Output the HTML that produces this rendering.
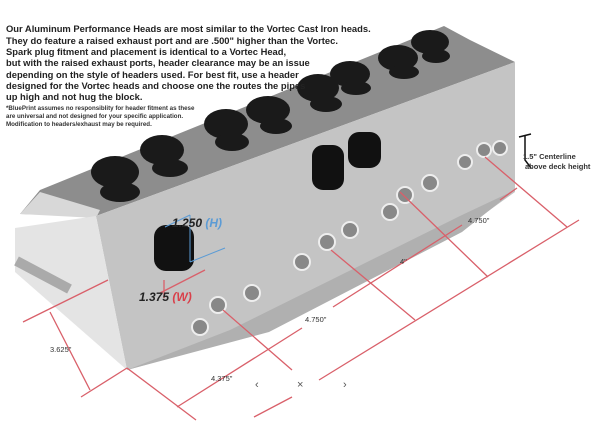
<!DOCTYPE html>
<html><head><meta charset="utf-8"><style>
body{margin:0;background:#fff;}
svg{display:block;}
text{font-family:"Liberation Sans",sans-serif;}
</style></head><body>
<svg width="600" height="421" viewBox="0 0 600 421" xmlns="http://www.w3.org/2000/svg">
<rect width="600" height="421" fill="#fff"/>
<!-- top deck -->
<polygon points="20,214 40,190 444,26 470,40 515,62 96,216" fill="#8d8d8d"/>
<polygon points="20,214 40,192 100,210 96,218" fill="#d8d8d8"/>
<!-- front face -->
<polygon points="96,216 515,62 515,192 462,230 269,330 127,370" fill="#c4c4c4"/>
<polygon points="230,330 462,215 515,190 462,232 269,332 127,370" fill="#b0b0b0"/>
<!-- springs -->
<g fill="#1a1a1a">
<ellipse cx="115" cy="172" rx="24" ry="16"/><ellipse cx="120" cy="192" rx="20" ry="10"/>
<ellipse cx="162" cy="150" rx="22" ry="15"/><ellipse cx="170" cy="168" rx="18" ry="9"/>
<ellipse cx="226" cy="124" rx="22" ry="15"/><ellipse cx="232" cy="142" rx="17" ry="9"/>
<ellipse cx="268" cy="110" rx="22" ry="14"/><ellipse cx="276" cy="126" rx="16" ry="8"/>
<ellipse cx="318" cy="88" rx="21" ry="14"/><ellipse cx="326" cy="104" rx="16" ry="8"/>
<ellipse cx="350" cy="74" rx="20" ry="13"/><ellipse cx="356" cy="88" rx="15" ry="7"/>
<ellipse cx="398" cy="58" rx="20" ry="13"/><ellipse cx="404" cy="72" rx="15" ry="7"/>
<ellipse cx="430" cy="42" rx="19" ry="12"/><ellipse cx="436" cy="56" rx="14" ry="7"/>
</g>
<!-- end face -->
<polygon points="15,228 96,216 127,370 15,272" fill="#e4e4e4"/>
<rect x="38" y="245" width="10" height="60" fill="#aaa" transform="rotate(-62 43 275)"/>
<!-- ports -->
<rect x="154" y="225" width="40" height="46" rx="12" fill="#111"/>
<rect x="312" y="145" width="32" height="45" rx="11" fill="#111"/>
<rect x="348" y="132" width="33" height="36" rx="11" fill="#111"/>
<!-- bolt holes -->
<g fill="#888" stroke="#eee" stroke-width="2">
<circle cx="200" cy="327" r="8"/><circle cx="218" cy="305" r="8"/><circle cx="252" cy="293" r="8"/>
<circle cx="302" cy="262" r="8"/><circle cx="327" cy="242" r="8"/><circle cx="350" cy="230" r="8"/>
<circle cx="390" cy="212" r="8"/><circle cx="405" cy="195" r="8"/><circle cx="430" cy="183" r="8"/>
<circle cx="465" cy="162" r="7"/><circle cx="484" cy="150" r="7"/><circle cx="500" cy="148" r="7"/>
</g>
<!-- blue dims -->
<g stroke="#5b9bd5" stroke-width="1" fill="none">
<line x1="165" y1="227" x2="190" y2="215"/><line x1="190" y1="215" x2="190" y2="262"/>
<line x1="190" y1="262" x2="225" y2="248"/>
</g>
<!-- red dims -->
<g stroke="#d9606a" stroke-width="1.3" fill="none">
<line x1="81" y1="397" x2="127" y2="368"/>
<line x1="50" y1="312" x2="90" y2="390"/>
<line x1="23" y1="322" x2="108" y2="280"/>
<line x1="127" y1="368" x2="196" y2="420"/>
<line x1="177" y1="407" x2="302" y2="328"/>
<line x1="223" y1="310" x2="292" y2="370"/>
<line x1="319" y1="380" x2="579" y2="220"/>
<line x1="331" y1="250" x2="415" y2="320"/>
<line x1="333" y1="307" x2="462" y2="225"/>
<line x1="400" y1="192" x2="488" y2="277"/>
<line x1="500" y1="200" x2="517" y2="188"/>
<line x1="485" y1="157" x2="567" y2="227"/>
<line x1="254" y1="417" x2="292" y2="397"/>
<line x1="160" y1="293" x2="205" y2="270"/>
<line x1="164" y1="280" x2="164" y2="298"/>
</g>
<path d="M519,137 L531,134 M525,136 L525,160 L531,168" stroke="#111" stroke-width="1.5" fill="none"/>
<!-- text -->
<g font-size="9.4" font-weight="bold" fill="#222">
<text x="6" y="32">Our Aluminum Performance Heads are most similar to the Vortec Cast Iron heads.</text>
<text x="6" y="44">They do feature a raised exhaust port and are .500" higher than the Vortec.</text>
<text x="6" y="55">Spark plug fitment and placement is identical to a Vortec Head,</text>
<text x="6" y="66">but with the raised exhaust ports, header clearance may be an issue</text>
<text x="6" y="78">depending on the style of headers used.  For best fit, use a header</text>
<text x="6" y="89">designed for the Vortec heads and choose one the routes the pipes</text>
<text x="6" y="100">up high and not hug the block.</text>
</g>
<g font-size="6.2" font-weight="bold" fill="#333">
<text x="6" y="110">*BluePrint assumes no responsiblity for header fitment as these</text>
<text x="6" y="118">are universal and not designed for your specific application.</text>
<text x="6" y="126">Modification to headers/exhaust may be required.</text>
</g>
<text x="172" y="227" font-size="12" font-weight="bold" font-style="italic" fill="#222">1.250 <tspan fill="#5b9bd5">(H)</tspan></text>
<text x="139" y="301" font-size="12" font-weight="bold" font-style="italic" fill="#222">1.375 <tspan fill="#d9404a">(W)</tspan></text>
<g font-size="7.5" fill="#333">
<text x="50" y="352">3.625"</text>
<text x="211" y="381">4.375"</text>
<text x="305" y="322">4.750"</text>
<text x="400" y="264">4"</text>
<text x="468" y="223">4.750"</text>
<text x="523" y="159" font-weight="bold">1.5" Centerline</text>
<text x="525" y="169" font-weight="bold">above deck height</text>
</g>
<g font-size="11" fill="#555">
<text x="255" y="388">‹</text><text x="297" y="388">×</text><text x="343" y="388">›</text>
</g>
</svg>
</body></html>
